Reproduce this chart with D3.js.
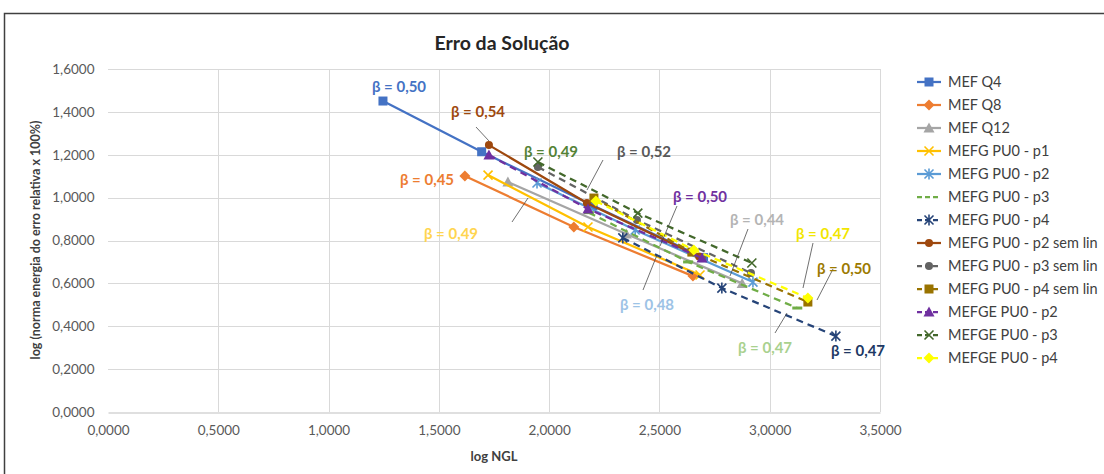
<!DOCTYPE html>
<html>
<head>
<meta charset="utf-8">
<script src="https://cdn.jsdelivr.net/npm/d3@7"></script>
<style>
  body { margin: 0; background: #fff; }
  svg { display: block; font-family: Lato, "Open Sans", sans-serif; }
</style>
</head>
<body>
<div id="chart"></div>
<script>
// series names (legend order)
const seriesNames = [
    "MEF Q4", "MEF Q8", "MEF Q12",
    "MEFG PU0 - p1", "MEFG PU0 - p2", "MEFG PU0 - p3", "MEFG PU0 - p4",
    "MEFG PU0 - p2 sem lin", "MEFG PU0 - p3 sem lin", "MEFG PU0 - p4 sem lin",
    "MEFGE PU0 - p2", "MEFGE PU0 - p3", "MEFGE PU0 - p4"
];

// [log NGL, log error] per series
const mefQ4      = [[1.2466, 1.4506], [1.6940, 1.2140], [2.1990, 0.9630], [2.7000, 0.7200]];
const mefQ8      = [[1.6180, 1.1010], [2.1120, 0.8630], [2.6520, 0.6340]];
const mefQ12     = [[1.8130, 1.0730], [2.3500, 0.8300], [2.8750, 0.6000]];
const mefgP1     = [[1.7230, 1.1050], [2.1760, 0.8630], [2.6840, 0.6390]];
const mefgP2     = [[1.9450, 1.0680], [2.3900, 0.8490], [2.9240, 0.6060]];
const mefgP3     = [[2.1800, 0.9300], [2.6300, 0.7000], [3.1250, 0.4850]];
const mefgP4     = [[2.3340, 0.8120], [2.7830, 0.5780], [3.3000, 0.3540]];
const mefgP2Sem  = [[1.7270, 1.2450], [2.1710, 0.9750], [2.6800, 0.7250]];
const mefgP3Sem  = [[1.9490, 1.1430], [2.3980, 0.8960], [2.9150, 0.6480]];
const mefgP4Sem  = [[2.2030, 0.9980], [2.6470, 0.7460], [3.1730, 0.5130]];
const mefgeP2    = [[1.7270, 1.1990], [2.1760, 0.9470], [2.6930, 0.7180]];
const mefgeP3    = [[1.9490, 1.1660], [2.4020, 0.9280], [2.9190, 0.6950]];
const mefgeP4    = [[2.2120, 0.9840], [2.6560, 0.7560], [3.1730, 0.5320]];

const seriesValues = [mefQ4, mefQ8, mefQ12, mefgP1, mefgP2, mefgP3, mefgP4,
    mefgP2Sem, mefgP3Sem, mefgP4Sem, mefgeP2, mefgeP3, mefgeP4];

// slope labels
const betaTexts = ["β = 0,50", "β = 0,45", "β = 0,44", "β = 0,49", "β = 0,48", "β = 0,47", "β = 0,47",
    "β = 0,54", "β = 0,52", "β = 0,50", "β = 0,50", "β = 0,49", "β = 0,47"];

const xTicks = [0, 0.5, 1, 1.5, 2, 2.5, 3, 3.5];
const yTicks = [0, 0.2, 0.4, 0.6, 0.8, 1.0, 1.2, 1.4, 1.6];

// styles
const styles = [
    { color: "#4472C4", dash: null, marker: "square" },
    { color: "#ED7D31", dash: null, marker: "diamond" },
    { color: "#A5A5A5", dash: null, marker: "triangle" },
    { color: "#FFC000", dash: null, marker: "x" },
    { color: "#5B9BD5", dash: null, marker: "star" },
    { color: "#70AD47", dash: "7,5", marker: "dash" },
    { color: "#264478", dash: "7,5", marker: "star" },
    { color: "#9E480E", dash: null, marker: "circle" },
    { color: "#636363", dash: "7,5", marker: "circle" },
    { color: "#997300", dash: "7,5", marker: "square" },
    { color: "#7030A0", dash: "7,5", marker: "triangle" },
    { color: "#43682B", dash: "7,5", marker: "x" },
    { color: "#FFFF00", dash: "7,5", marker: "diamond" }
];

const labelColors = ["#4472C4", "#ED7D31", "#B4B4B4", "#FFD54F", "#9DC3E6", "#A9D18E", "#203864",
    "#9E480E", "#595959", "#9C7A00", "#7030A0", "#548235", "#F2E600"];

// label placement in pixels: centre x, baseline y, optional leader
const labelLayout = [
    { x: 399, y: 92 },
    { x: 427, y: 185 },
    { x: 757, y: 225, leader: [748, 229, 730, 276] },
    { x: 451, y: 239, leader: [512, 222, 528, 198] },
    { x: 647, y: 310, leader: [643, 290, 657, 255] },
    { x: 765, y: 353, leader: [787, 313, 775, 333] },
    { x: 858, y: 356 },
    { x: 478, y: 117, leader: [476, 127, 489, 141] },
    { x: 644, y: 157, leader: [603, 160, 587, 190] },
    { x: 844, y: 274, leader: [833, 269, 817, 300] },
    { x: 700, y: 202, leader: [677, 206, 660, 246] },
    { x: 551, y: 157 },
    { x: 823, y: 239, leader: [813, 243, 803, 288] }
];

const width = 1104, height = 474;

const svg = d3.select("#chart").append("svg")
    .attr("width", width)
    .attr("height", height);

// chart frame
svg.append("rect")
    .attr("x", 4.5).attr("y", 13.5)
    .attr("width", 1110).attr("height", 480)
    .attr("fill", "#fff")
    .attr("stroke", "#404040")
    .attr("stroke-width", 1.5);

const x = d3.scaleLinear().domain([0, 3.5]).range([108, 880]);
const y = d3.scaleLinear().domain([0, 1.6]).range([412, 69]);

const fmt = d => d.toFixed(4).replace(".", ",");

// gridlines
svg.append("g")
    .selectAll("line")
    .data(yTicks.filter(d => d > 0))
    .join("line")
    .attr("x1", x(0)).attr("x2", x(3.5))
    .attr("y1", d => Math.round(y(d)) + 0.5).attr("y2", d => Math.round(y(d)) + 0.5)
    .attr("stroke", "#d9d9d9");

svg.append("g")
    .selectAll("line")
    .data(xTicks.filter(d => d > 0))
    .join("line")
    .attr("x1", d => Math.round(x(d)) + 0.5).attr("x2", d => Math.round(x(d)) + 0.5)
    .attr("y1", y(1.6)).attr("y2", y(0))
    .attr("stroke", "#d9d9d9");

// axes
const xAxis = svg.append("g")
    .attr("transform", `translate(0,${Math.round(y(0)) + 0.5})`)
    .call(d3.axisBottom(x).tickValues(xTicks).tickFormat(fmt).tickSize(0).tickPadding(13));
xAxis.select(".domain").attr("stroke", "#bfbfbf");

const yAxis = svg.append("g")
    .attr("transform", `translate(${x(0) - 0.5},0)`)
    .call(d3.axisLeft(y).tickValues(yTicks).tickFormat(fmt).tickSize(0).tickPadding(13));
yAxis.select(".domain").remove();

svg.selectAll(".tick text")
    .attr("font-family", "Lato, sans-serif")
    .attr("font-size", 13.5)
    .attr("fill", "#595959");

// titles
svg.append("text")
    .attr("x", 502).attr("y", 50)
    .attr("text-anchor", "middle")
    .attr("font-size", 19.5)
    .attr("font-weight", "bold")
    .attr("fill", "#262626")
    .text("Erro da Solução");

svg.append("text")
    .attr("x", 494).attr("y", 461)
    .attr("text-anchor", "middle")
    .attr("font-size", 13)
    .attr("font-weight", "bold")
    .attr("fill", "#404040")
    .text("log NGL");

svg.append("text")
    .attr("transform", "translate(40,240) rotate(-90)")
    .attr("text-anchor", "middle")
    .attr("font-size", 12.5)
    .attr("font-weight", "bold")
    .attr("fill", "#404040")
    .text("log (norma energia do erro relativa x 100%)");

// marker drawing
function drawMarker(g, type, color, cx, cy) {
    const m = g.append("g").attr("transform", `translate(${cx},${cy})`);
    if (type === "square") {
        m.append("rect").attr("x", -4.5).attr("y", -4.5).attr("width", 9).attr("height", 9)
            .attr("fill", color);
    } else if (type === "diamond") {
        m.append("path").attr("d", "M0,-5.5L5.5,0L0,5.5L-5.5,0Z").attr("fill", color);
    } else if (type === "triangle") {
        m.append("path").attr("d", "M0,-5.5L5.5,4.5L-5.5,4.5Z").attr("fill", color);
    } else if (type === "circle") {
        m.append("circle").attr("r", 4).attr("fill", color);
    } else if (type === "x") {
        m.append("path").attr("d", "M-4.5,-4.5L4.5,4.5M-4.5,4.5L4.5,-4.5")
            .attr("stroke", color).attr("stroke-width", 1.6).attr("fill", "none");
    } else if (type === "star") {
        m.append("path").attr("d", "M-4.5,-4.5L4.5,4.5M-4.5,4.5L4.5,-4.5M0,-5.5L0,5.5")
            .attr("stroke", color).attr("stroke-width", 1.6).attr("fill", "none");
    } else if (type === "dash") {
        m.append("path").attr("d", "M-5,0L5,0")
            .attr("stroke", color).attr("stroke-width", 3).attr("fill", "none");
    }
}

const line = d3.line().x(d => x(d[0])).y(d => y(d[1]));

const plot = svg.append("g");
seriesValues.forEach((vals, i) => {
    const s = styles[i];
    const g = plot.append("g");
    g.append("path")
        .datum(vals)
        .attr("d", line)
        .attr("fill", "none")
        .attr("stroke", s.color)
        .attr("stroke-width", 2.25)
        .attr("stroke-dasharray", s.dash);
    vals.forEach(d => drawMarker(g, s.marker, s.color, x(d[0]), y(d[1])));
});

// slope labels
const labels = svg.append("g");
betaTexts.forEach((t, i) => {
    const p = labelLayout[i];
    if (p.leader) {
        labels.append("line")
            .attr("x1", p.leader[0]).attr("y1", p.leader[1])
            .attr("x2", p.leader[2]).attr("y2", p.leader[3])
            .attr("stroke", "#404040").attr("stroke-width", 0.75);
    }
    labels.append("text")
        .attr("x", p.x).attr("y", p.y)
        .attr("text-anchor", "middle")
        .attr("font-size", 15)
        .attr("font-weight", "bold")
        .attr("fill", labelColors[i])
        .text(t);
});

// legend
const legend = svg.append("g").attr("transform", "translate(917,82)");
seriesNames.forEach((name, i) => {
    const s = styles[i];
    const row = legend.append("g").attr("transform", `translate(0,${i * 23})`);
    row.append("line")
        .attr("x1", 0).attr("x2", 24).attr("y1", 0).attr("y2", 0)
        .attr("stroke", s.color).attr("stroke-width", 2.25)
        .attr("stroke-dasharray", s.dash ? "5,3" : null);
    if (s.marker !== "dash") drawMarker(row, s.marker, s.color, 12, 0);
    row.append("text")
        .attr("x", 31).attr("y", 5)
        .attr("font-size", 14.5)
        .attr("fill", "#404040")
        .text(name);
});
</script>
</body>
</html>
